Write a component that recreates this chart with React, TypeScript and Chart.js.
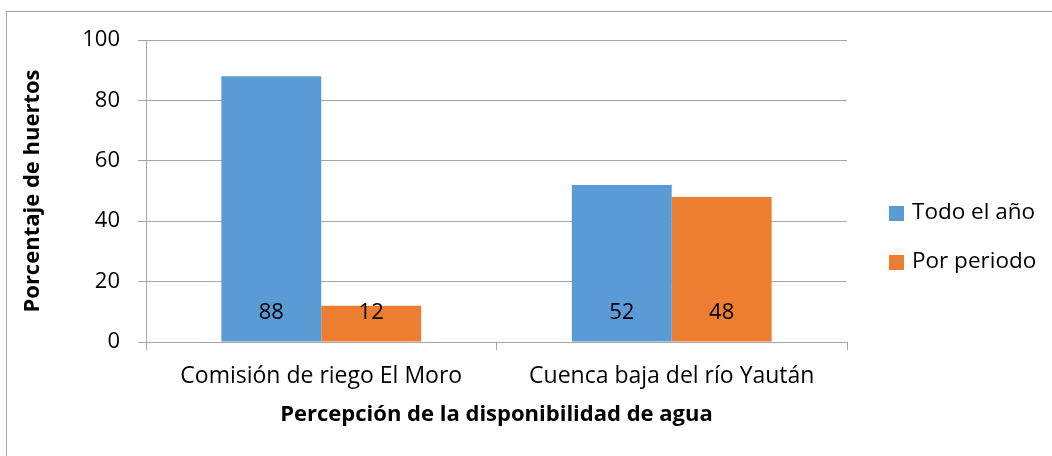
import React, { useEffect, useRef } from "react";
import { Chart, registerables } from "chart.js";

Chart.register(...registerables);

const categories = ["Comisión de riego El Moro", "Cuenca baja del río Yaután"];
const seriesNames = ["Todo el año", "Por periodo"];
const todoElAno = [88, 52];
const porPeriodo = [12, 48];
const yTicks = [0, 20, 40, 60, 80, 100];
const colors = ["#5b9bd5", "#ed7d31"];
const yTitle = "Porcentaje de huertos";
const xTitle = "Percepción de la disponibilidad de agua";

const FONT = "'Open Sans', 'Noto Sans', sans-serif";

const frame = {
  id: "frame",
  beforeDraw(chart: any) {
    const ctx = chart.ctx;
    ctx.save();
    ctx.fillStyle = "#ffffff";
    ctx.fillRect(0, 0, chart.width, chart.height);
    ctx.strokeStyle = "#a6a6a6";
    ctx.lineWidth = 1;
    ctx.strokeRect(6.5, 11.5, chart.width + 20, chart.height + 20);
    ctx.restore();
  },
};

const valueLabels = {
  id: "valueLabels",
  afterDatasetsDraw(chart: any) {
    const ctx = chart.ctx;
    ctx.save();
    ctx.font = `22px ${FONT}`;
    ctx.fillStyle = "#000000";
    ctx.textAlign = "center";
    ctx.textBaseline = "middle";
    chart.data.datasets.forEach((ds: any, i: number) => {
      const meta = chart.getDatasetMeta(i);
      meta.data.forEach((bar: any, j: number) => {
        ctx.fillText(String(ds.data[j]), bar.x, bar.base - 29);
      });
    });
    ctx.restore();
  },
};

const sideLegend = {
  id: "sideLegend",
  afterDraw(chart: any) {
    const ctx = chart.ctx;
    ctx.save();
    ctx.font = `22.5px ${FONT}`;
    ctx.textAlign = "left";
    ctx.textBaseline = "middle";
    chart.data.datasets.forEach((ds: any, i: number) => {
      const cy = 213 + i * 49;
      ctx.fillStyle = ds.backgroundColor;
      ctx.fillRect(889, cy - 7, 15, 15);
      ctx.fillStyle = "#000000";
      ctx.fillText(ds.label, 912, cy);
    });
    ctx.restore();
  },
};

export default function App() {
  const ref = useRef<HTMLCanvasElement>(null);
  useEffect(() => {
    const chart = new Chart(ref.current!, {
      type: "bar",
      data: {
        labels: categories,
        datasets: [
          { label: seriesNames[0], data: todoElAno, backgroundColor: colors[0], barPercentage: 1, categoryPercentage: 0.57 },
          { label: seriesNames[1], data: porPeriodo, backgroundColor: colors[1], barPercentage: 1, categoryPercentage: 0.57 },
        ],
      },
      options: {
        animation: false,
        responsive: false,
        devicePixelRatio: 1,
        layout: { padding: { left: 0, right: 205, top: 40, bottom: 0 } },
        plugins: { legend: { display: false }, tooltip: { enabled: false } },
        scales: {
          x: {
            afterFit: (s: any) => { s.height = 114; },
            grid: { offset: true, drawOnChartArea: false, color: "#a6a6a6", tickLength: 8 },
            border: { color: "#a6a6a6" },
            ticks: { color: "#000", font: { family: FONT, size: 23 }, padding: 13 },
            title: { display: true, text: xTitle, color: "#000", font: { family: FONT, size: 22, weight: "bold" }, padding: { top: 0, bottom: 28 } },
          },
          y: {
            min: 0,
            max: 100,
            afterFit: (s: any) => { s.width = 146; },
            afterBuildTicks: (s: any) => { s.ticks = yTicks.map((v) => ({ value: v })); },
            grid: { color: "#a6a6a6", tickLength: 8 },
            border: { color: "#a6a6a6" },
            ticks: { color: "#000", font: { family: FONT, size: 22 }, padding: 18 },
            title: { display: true, text: yTitle, color: "#000", font: { family: FONT, size: 22, weight: "bold" }, padding: { top: 20, bottom: 0 } },
          },
        },
      },
      plugins: [frame, valueLabels, sideLegend],
    });
    return () => chart.destroy();
  }, []);
  return (
    <div style={{ position: "fixed", left: 0, top: 0, width: 1052, height: 456 }}>
      <canvas ref={ref} width={1052} height={456} style={{ width: 1052, height: 456, display: "block" }} />
    </div>
  );
}
